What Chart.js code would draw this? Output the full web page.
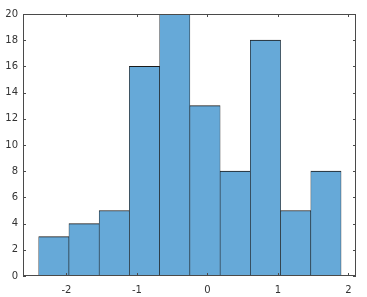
<!DOCTYPE html>
<html>
<head>
<meta charset="utf-8">
<script src="https://cdn.jsdelivr.net/npm/chart.js@4"></script>
<style>
  html, body { margin: 0; padding: 0; background: #fff; }
  #wrap { width: 367px; height: 297px; }
</style>
</head>
<body>
<div id="wrap"><canvas id="hist"></canvas></div>
<script>
// histogram bins (edges) and counts
const binEdges = [-2.393, -1.964, -1.535, -1.106, -0.677, -0.248, 0.181, 0.610, 1.039, 1.468, 1.897];
const counts = [3, 4, 5, 16, 20, 13, 8, 18, 5, 8];
const xTicks = [-2, -1, 0, 1, 2];
const xTickLabels = ['-2', '-1', '0', '1', '2'];
const yTicks = [0, 2, 4, 6, 8, 10, 12, 14, 16, 18, 20];

const axisColor = '#4a4a4a';
const labelColor = '#333333';

const points = counts.map((c, i) => ({ x: (binEdges[i] + binEdges[i + 1]) / 2, y: c }));

// box around the plot + inward tick marks on all four sides
const boxPlugin = {
    id: 'box',
    afterDatasetsDraw(chart) {
        const { ctx, chartArea: a, scales } = chart;
        ctx.save();
        ctx.strokeStyle = axisColor;
        ctx.lineWidth = 1;
        ctx.strokeRect(a.left + 0.5, a.top + 0.5, a.right - a.left - 1, a.bottom - a.top - 1);
        ctx.beginPath();
        const len = 3;
        xTicks.forEach(v => {
            const px = Math.round(scales.x.getPixelForValue(v)) + 0.5;
            ctx.moveTo(px, a.bottom); ctx.lineTo(px, a.bottom - len);
            ctx.moveTo(px, a.top); ctx.lineTo(px, a.top + len);
        });
        yTicks.forEach(v => {
            const py = Math.round(scales.y.getPixelForValue(v)) + 0.5;
            ctx.moveTo(a.left, py); ctx.lineTo(a.left + len, py);
            ctx.moveTo(a.right, py); ctx.lineTo(a.right - len, py);
        });
        ctx.stroke();
        ctx.restore();
    }
};

new Chart(document.getElementById('hist'), {
    type: 'bar',
    data: {
        datasets: [{
            data: points,
            backgroundColor: '#66a9d8',
            borderColor: '#1a1a1a',
            borderWidth: { top: 1, right: 0.6, bottom: 0, left: 0.6 },
            borderSkipped: false,
            barPercentage: 1,
            categoryPercentage: 1,
            grouped: false
        }]
    },
    options: {
        responsive: true,
        maintainAspectRatio: false,
        animation: false,
        layout: { padding: { top: 14, right: 11, left: 0, bottom: 0 } },
        plugins: { legend: { display: false }, tooltip: { enabled: false } },
        scales: {
            x: {
                type: 'linear',
                offset: false,
                min: -2.616,
                max: 2.109,
                grid: { display: false, drawTicks: false, offset: false },
                border: { display: false },
                afterBuildTicks: s => { s.ticks = xTicks.map(v => ({ value: v })); },
                afterFit: s => { s.height = 21; },
                ticks: {
                    padding: 8,
                    color: labelColor,
                    font: { family: 'DejaVu Sans', size: 10 },
                    callback: v => xTickLabels[xTicks.indexOf(v)]
                }
            },
            y: {
                min: 0,
                max: 20,
                grid: { display: false, drawTicks: false },
                border: { display: false },
                afterBuildTicks: s => { s.ticks = yTicks.map(v => ({ value: v })); },
                afterFit: s => { s.width = 23; },
                ticks: {
                    padding: 5,
                    color: labelColor,
                    font: { family: 'DejaVu Sans', size: 10 }
                }
            }
        }
    },
    plugins: [boxPlugin]
});
</script>
</body>
</html>
